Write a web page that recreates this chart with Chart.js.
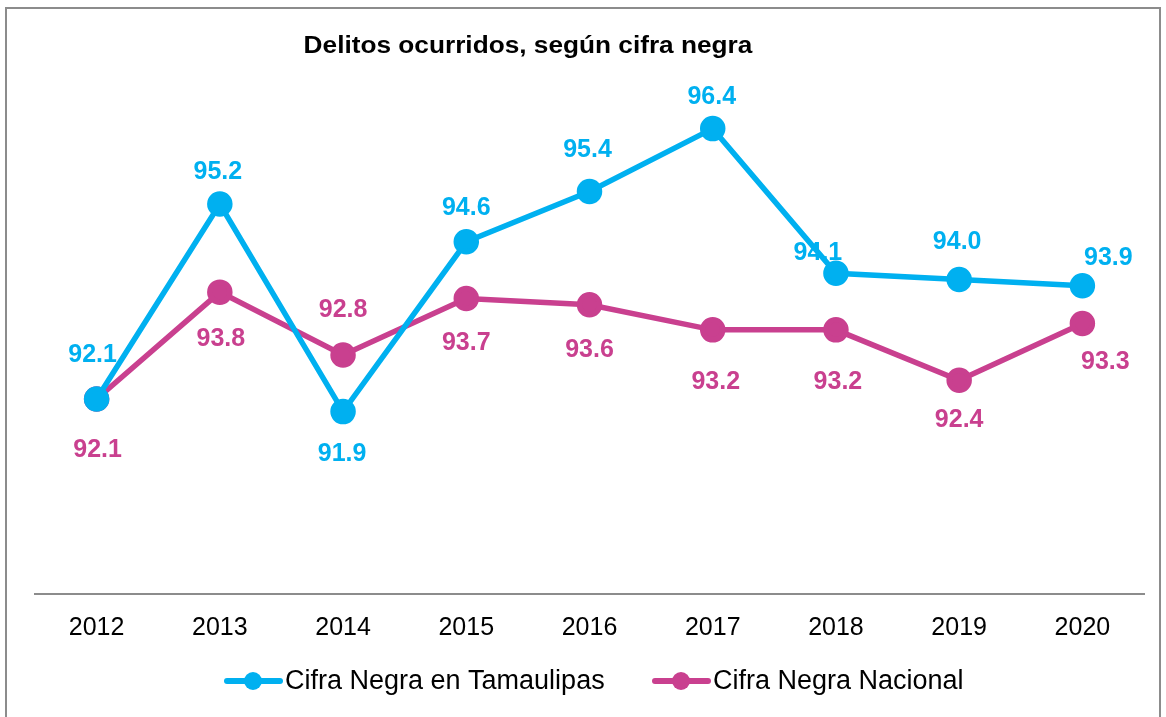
<!DOCTYPE html>
<html>
<head>
<meta charset="utf-8">
<script src="https://cdn.jsdelivr.net/npm/chart.js@4.4.0/dist/chart.umd.min.js"></script>
<style>
    html, body { margin: 0; padding: 0; background: #fff; }
    #wrap { position: relative; width: 1166px; height: 717px; }
    #frame {
        position: absolute; left: 5px; top: 7px; width: 1156px; height: 720px;
        border: 2px solid #8c8c8c; box-sizing: border-box; pointer-events: none;
    }
    canvas { position: absolute; left: 0; top: 0; }
</style>
</head>
<body>
<div id="wrap">
    <canvas id="chart" width="1166" height="717"></canvas>
    <div id="frame"></div>
</div>
<script>
// Data
const years = ['2012', '2013', '2014', '2015', '2016', '2017', '2018', '2019', '2020'];
const tamaulipas = [92.1, 95.2, 91.9, 94.6, 95.4, 96.4, 94.1, 94.0, 93.9];
const nacional = [92.1, 93.8, 92.8, 93.7, 93.6, 93.2, 93.2, 92.4, 93.3];

const titleText = 'Delitos ocurridos, según cifra negra';
const cyan = '#00b0f0';
const magenta = '#c9408f';
const fontFamily = '"Liberation Sans", Arial, Helvetica, sans-serif';

// Label offsets (px) relative to each point
const tamLabelOffsets = [[-4, -44], [-2, -32], [-1, 42], [0, -34], [-2, -41], [-1, -32], [-18, -20], [-2, -37], [26, -28]];
const nacLabelOffsets = [[1, 51], [1, 47], [0, -45], [0, 45], [0, 45], [3, 52], [2, 52], [0, 40], [23, 39]];

// Value labels + title
const annotations = {
    id: 'annotations',
    afterDatasetsDraw(chart) {
        const ctx = chart.ctx;
        ctx.save();
        ctx.textAlign = 'center';
        ctx.textBaseline = 'middle';
        ctx.font = 'bold 25px ' + fontFamily;
        chart.data.datasets.forEach((ds, di) => {
            const meta = chart.getDatasetMeta(di);
            const offsets = ds.labelOffsets;
            ctx.fillStyle = ds.borderColor;
            meta.data.forEach((pt, i) => {
                ctx.fillText(ds.data[i].toFixed(1), pt.x + offsets[i][0], pt.y + offsets[i][1]);
            });
        });
        // title is drawn a bit wider, like the original
        ctx.fillStyle = '#000';
        ctx.font = 'bold 23px ' + fontFamily;
        ctx.translate(528, 47);
        ctx.scale(1.14, 1);
        ctx.fillText(titleText, 0, 0);
        ctx.restore();
    }
};

// Legend with line + dot markers
const lineLegend = {
    id: 'lineLegend',
    afterDraw(chart) {
        const ctx = chart.ctx;
        ctx.save();
        ctx.font = '27px ' + fontFamily;
        ctx.textBaseline = 'middle';
        const y = 681;
        const starts = [225, 653];
        chart.data.datasets.forEach((ds, di) => {
            const x = starts[di];
            ctx.strokeStyle = ds.borderColor;
            ctx.lineWidth = 6;
            ctx.lineCap = 'round';
            ctx.beginPath();
            ctx.moveTo(x + 2, y);
            ctx.lineTo(x + 55, y);
            ctx.stroke();
            ctx.fillStyle = ds.borderColor;
            ctx.beginPath();
            ctx.arc(x + 28, y, 9, 0, Math.PI * 2);
            ctx.fill();
            ctx.fillStyle = '#000';
            ctx.fillText(ds.label, x + 60, y + 1);
        });
        ctx.restore();
    }
};

const ctx = document.getElementById('chart').getContext('2d');
new Chart(ctx, {
    type: 'line',
    data: {
        labels: years,
        datasets: [{
            label: 'Cifra Negra en Tamaulipas',
            data: tamaulipas,
            borderColor: cyan,
            backgroundColor: cyan,
            borderWidth: 5.5,
            pointRadius: 10,
            pointHoverRadius: 10,
            tension: 0,
            labelOffsets: tamLabelOffsets
        }, {
            label: 'Cifra Negra Nacional',
            data: nacional,
            borderColor: magenta,
            backgroundColor: magenta,
            borderWidth: 5.5,
            pointRadius: 10,
            pointHoverRadius: 10,
            tension: 0,
            labelOffsets: nacLabelOffsets
        }]
    },
    options: {
        responsive: false,
        animation: false,
        layout: { padding: { left: 35, right: 22, top: 28, bottom: 55 } },
        plugins: {
            legend: { display: false },
            title: { display: false },
            tooltip: { enabled: false }
        },
        scales: {
            y: {
                display: false,
                min: 89,
                max: 98
            },
            x: {
                offset: true,
                grid: { display: false, drawTicks: false },
                border: { display: true, color: '#8c8c8c', width: 2 },
                ticks: {
                    color: '#000',
                    padding: 19,
                    font: { family: fontFamily, size: 25 }
                }
            }
        }
    },
    plugins: [annotations, lineLegend]
});
</script>
</body>
</html>
